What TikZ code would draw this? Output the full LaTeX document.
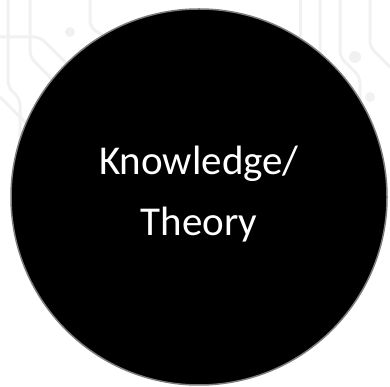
\documentclass[tikz,border=0pt]{standalone}
\usepackage{fontspec}
\setmainfont{Carlito}
\usepackage{tikz}
\definecolor{rimGray}{RGB}{125,125,125}
\definecolor{traceGray}{RGB}{241,241,241}

\begin{document}
\begin{tikzpicture}[x=1pt,y=1pt,
  every node/.style={align=center},
  disc/.style={circle,draw=rimGray,line width=1.5pt,fill=black,minimum size=376pt,inner sep=0pt},
  label/.style={text=white,font=\fontsize{41}{61}\selectfont},
  trace/.style={draw=traceGray,line width=3pt,rounded corners=6pt}]
\useasboundingbox (0,0) rectangle (390,387);
% faint circuit traces in the background
\draw[trace] (8,387) -- (8,300) -- (20,288) -- (20,200);
\draw[trace] (30,387) -- (30,330) -- (60,300) -- (60,250);
\draw[trace] (0,350) -- (40,350) -- (70,320) -- (95,320);
\draw[trace] (0,290) -- (30,260) -- (30,220);
\draw[trace] (90,387) -- (90,360) -- (120,340);
\draw[trace] (300,387) -- (300,350);
\draw[trace] (340,387) -- (340,330) -- (360,310) -- (360,250);
\draw[trace] (370,387) -- (370,340) -- (390,320);
\draw[trace] (320,387) -- (320,300) -- (345,280) -- (345,230);
\fill[traceGray] (70,355) circle (5);
\fill[traceGray] (355,330) circle (6);
\fill[traceGray] (370,290) circle (5);
\node[disc] (core) at (199,190) {};
\node[label] (topic) at ([yshift=3pt]core.center) {Knowledge/\\Theory};
\end{tikzpicture}
\end{document}
